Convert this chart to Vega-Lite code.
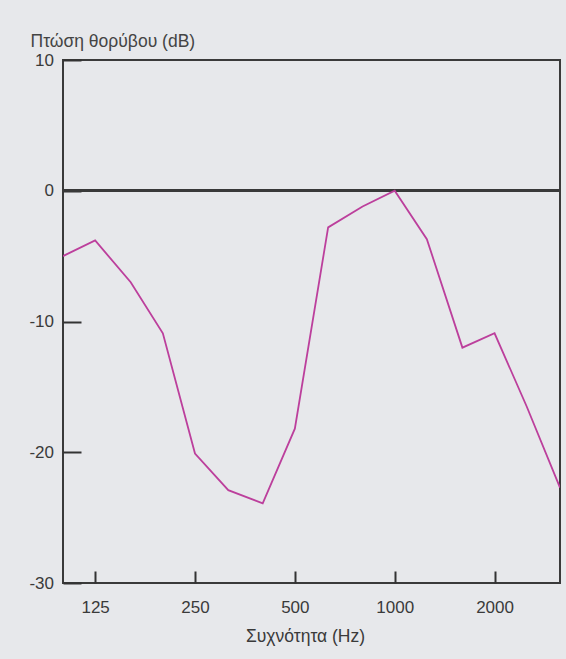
{
  "$schema": "https://vega.github.io/schema/vega-lite/v6.json",
  "autosize": {"type": "none"},
  "width": 497,
  "height": 523,
  "padding": {"left": 63, "top": 60, "right": 6, "bottom": 76},
  "background": "#e7e8eb",
  "config": {
    "view": {"stroke": "#3a3a3a", "strokeWidth": 2},
    "font": "Liberation Sans"
  },
  "data": {
    "values": [
      {"freq": 100, "db": -5.0},
      {"freq": 125, "db": -3.8},
      {"freq": 160, "db": -7.0},
      {"freq": 200, "db": -10.9},
      {"freq": 250, "db": -20.1},
      {"freq": 315, "db": -22.9},
      {"freq": 400, "db": -23.9},
      {"freq": 500, "db": -18.2},
      {"freq": 630, "db": -2.8},
      {"freq": 800, "db": -1.2},
      {"freq": 1000, "db": 0},
      {"freq": 1250, "db": -3.7},
      {"freq": 1600, "db": -12.0},
      {"freq": 2000, "db": -10.9},
      {"freq": 2500, "db": -16.5},
      {"freq": 3150, "db": -22.7}
    ]
  },
  "layer": [
    {
      "mark": {"type": "rule", "color": "#3a3a3a", "strokeWidth": 2},
      "encoding": {"y": {"datum": 0, "type": "quantitative"}}
    },
    {
      "mark": {"type": "line", "color": "#bc3f9c", "strokeWidth": 1.8, "clip": true},
      "encoding": {
        "x": {
          "field": "freq",
          "type": "quantitative",
          "scale": {"type": "log", "domain": [100, 3150], "nice": false},
          "axis": {
            "values": [125, 250, 500, 1000, 2000],
            "format": "d",
            "grid": false,
            "domain": false,
            "tickSize": -12,
            "tickWidth": 2,
            "tickColor": "#333333",
            "labelPadding": 28,
            "labelFontSize": 17,
            "labelColor": "#3a3a3a",
            "labelFlush": false,
            "title": "Συχνότητα (Hz)",
            "titleFontSize": 17.5,
            "titleFontWeight": "normal",
            "titleColor": "#3a3a3a",
            "titleAnchor": "start",
            "titleAlign": "center",
            "titleBaseline": "alphabetic",
            "titleX": 242,
            "titleY": 58
          }
        },
        "y": {
          "field": "db",
          "type": "quantitative",
          "scale": {"domain": [-30, 10], "nice": false},
          "axis": {
            "values": [10, 0, -10, -20, -30],
            "labelExpr": "datum.value + ''",
            "grid": false,
            "domain": false,
            "tickSize": -18,
            "tickWidth": 2,
            "tickColor": "#333333",
            "labelPadding": 27.5,
            "labelFontSize": 17,
            "labelColor": "#3a3a3a",
            "title": "Πτώση θορύβου (dB)",
            "titleFontSize": 17.5,
            "titleFontWeight": "normal",
            "titleColor": "#444444",
            "titleAngle": 0,
            "titleAlign": "left",
            "titleBaseline": "alphabetic",
            "titleAnchor": "start",
            "titleX": -33,
            "titleY": -13.5
          }
        }
      }
    }
  ]
}
